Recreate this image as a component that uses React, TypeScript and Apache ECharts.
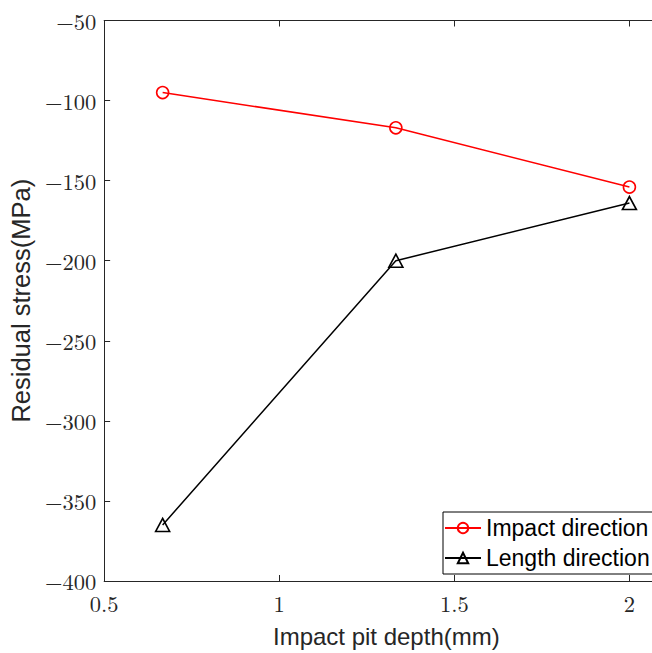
import React, { useEffect, useRef } from "react";
import * as echarts from "echarts";

const xValues = [0.667, 1.333, 2];
const impactDirection = [-95, -117, -154];
const lengthDirection = [-365, -200, -164];
const xTicks = [0.5, 1, 1.5, 2];
const seriesNames = ["Impact direction", "Length direction"];

const SANS = "'Liberation Sans', Arial, Helvetica, sans-serif";
const SERIF = "'Latin Modern Roman', 'Liberation Serif', 'DejaVu Serif', serif";
const AXIS = "#262626";

export default function App() {
  const ref = useRef<HTMLDivElement>(null);
  useEffect(() => {
    if (!ref.current) return;
    const chart = echarts.init(ref.current, undefined, { renderer: "svg" });
    const fmt = (v: number) => String(v).replace("-", "\u2212");
    chart.setOption({
      animation: false,
      backgroundColor: "#fff",
      grid: { left: 101.5, top: 20.5, right: 0, bottom: 70, containLabel: false },
      legend: {
        orient: "vertical",
        left: 443,
        top: 512,
        padding: [4, 20, 4, 1],
        itemGap: 6,
        itemWidth: 36,
        itemHeight: 13,
        borderColor: "#000",
        borderWidth: 1,
        borderRadius: 0,
        backgroundColor: "#fff",
        textStyle: { fontFamily: SANS, fontSize: 23, color: "#000", lineHeight: 24 },
        data: seriesNames,
      },
      xAxis: [
        {
          type: "value",
          min: 0.5,
          max: 2.0645,
          interval: 0.5,
          name: "Impact pit depth(mm)",
          nameLocation: "middle",
          nameGap: 43,
          nameTextStyle: { fontFamily: SANS, fontSize: 24, color: AXIS, padding: [0, 0, 0, 16.5] },
          axisLine: { show: true, lineStyle: { color: AXIS, width: 1 } },
          axisTick: { show: true, inside: true, length: 6, customValues: xTicks, lineStyle: { color: AXIS } },
          axisLabel: {
            show: true,
            customValues: xTicks,
            margin: 10,
            fontFamily: SERIF,
            fontSize: 22.5,
            color: AXIS,
            formatter: (v: number) => fmt(v),
          },
          splitLine: { show: false },
        },
        {
          type: "value",
          position: "top",
          min: 0.5,
          max: 2.0645,
          interval: 0.5,
          axisLine: { show: true, onZero: false, lineStyle: { color: AXIS, width: 1 } },
          axisTick: { show: true, inside: true, length: 6, customValues: xTicks, lineStyle: { color: AXIS } },
          axisLabel: { show: false },
          splitLine: { show: false },
        },
      ],
      yAxis: {
        type: "value",
        min: -400,
        max: -50,
        interval: 50,
        name: "Residual stress(MPa)",
        nameLocation: "middle",
        nameGap: 62,
        nameTextStyle: { fontFamily: SANS, fontSize: 25.5, color: AXIS },
        axisLine: { show: true, onZero: false, lineStyle: { color: AXIS, width: 1 } },
        axisTick: { show: true, inside: true, length: 6, lineStyle: { color: AXIS } },
        axisLabel: {
          margin: 8,
          fontFamily: SERIF,
          fontSize: 22.5,
          color: AXIS,
          formatter: (v: number) => fmt(v),
        },
        splitLine: { show: false },
      },
      series: [
        {
          name: seriesNames[0],
          type: "line",
          xAxisIndex: 0,
          data: xValues.map((x, i) => [x, impactDirection[i]]),
          symbol: "circle",
          symbolSize: 12,
          lineStyle: { color: "#ff0000", width: 1.5 },
          itemStyle: { color: "none", borderColor: "#ff0000", borderWidth: 1.6 },
        },
        {
          name: seriesNames[1],
          type: "line",
          xAxisIndex: 0,
          data: xValues.map((x, i) => [x, lengthDirection[i]]),
          symbol: "triangle",
          symbolSize: [14, 13],
          lineStyle: { color: "#000000", width: 1.5 },
          itemStyle: { color: "none", borderColor: "#000000", borderWidth: 1.6 },
        },
      ],
    });
    return () => chart.dispose();
  }, []);
  return <div ref={ref} style={{ width: 652, height: 653, position: "absolute", left: 0, top: 0 }} />;
}
